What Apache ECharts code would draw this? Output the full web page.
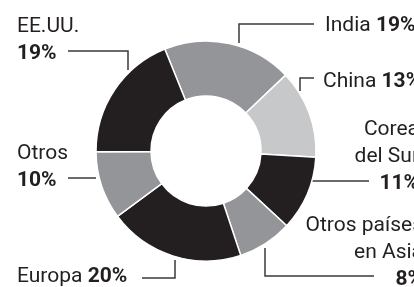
<!DOCTYPE html>
<html>
<head>
<meta charset="utf-8">
<script src="https://cdn.jsdelivr.net/npm/echarts@6/dist/echarts.min.js"></script>
<style>
  html, body { margin: 0; padding: 0; background: #fff; }
  #chart { width: 414px; height: 287px; }
</style>
</head>
<body>
<div id="chart"></div>
<script>
// regiones, en el sentido de las agujas del reloj desde India
var regiones = ['India', 'China', 'Corea\ndel Sur', 'Otros países\nen Asia', 'Europa', 'Otros', 'EE.UU.'];
var porcentajes = [19, 13, 11, 8, 20, 10, 19];
var colores = ['#939598', '#c7c8ca', '#231f20', '#939598', '#231f20', '#939598', '#231f20'];

// donde va cada etiqueta y su línea guía
var etiquetas = [
  { x: 325, y: 12, align: 'left', enLinea: true, linea: [[314, 24], [239, 24], [239, 43]] },
  { x: 323, y: 68, align: 'left', enLinea: true, linea: [[314, 78], [300, 78], [300, 91]] },
  { x: 419, y: 116, align: 'right', linea: [[312, 181], [369, 181]] },
  { x: 423, y: 212, align: 'right', linea: [[265, 248], [265, 276], [374, 276]] },
  { x: 17, y: 263, align: 'left', enLinea: true, linea: [[142, 278], [175, 278], [175, 260]] },
  { x: 17, y: 140, align: 'left', linea: [[68, 178], [96, 178]] },
  { x: 17, y: 13, align: 'left', linea: [[68, 51], [128, 51], [128, 70]] }
];

var chart = echarts.init(document.getElementById('chart'));

var datos = regiones.map(function (r, i) {
  return { name: r, value: porcentajes[i], itemStyle: { color: colores[i] } };
});

chart.setOption({
  animation: false,
  series: [{
    type: 'pie',
    center: [206, 151],
    radius: [55, 110],
    startAngle: 112,
    clockwise: true,
    avoidLabelOverlap: false,
    itemStyle: { borderColor: '#fff', borderWidth: 1.5 },
    emphasis: { disabled: true },
    label: {
      show: true,
      position: 'outside',
      color: '#231f20',
      fontFamily: 'Roboto',
      fontSize: 21,
      lineHeight: 27,
      formatter: function (p) {
        var e = etiquetas[p.dataIndex];
        var lineas = p.name.split('\n').map(function (t) { return '{n|' + t + '}'; });
        var num = '{b|' + p.value + '%}';
        if (e.enLinea) return lineas.join('\n') + ' ' + num;
        return lineas.join('\n') + '\n' + num;
      },
      rich: {
        n: { fontFamily: 'Roboto', fontSize: 21, lineHeight: 27, color: '#231f20' },
        b: { fontFamily: 'Roboto', fontSize: 21, lineHeight: 27, fontWeight: 'bold', color: '#231f20' }
      }
    },
    labelLine: {
      show: true,
      lineStyle: { color: '#3a3a3a', width: 1.5 }
    },
    labelLayout: function (p) {
      var e = etiquetas[p.dataIndex];
      return {
        x: e.x,
        y: e.y,
        align: e.align,
        verticalAlign: 'top',
        labelLinePoints: e.linea
      };
    },
    data: datos
  }]
});
</script>
</body>
</html>
